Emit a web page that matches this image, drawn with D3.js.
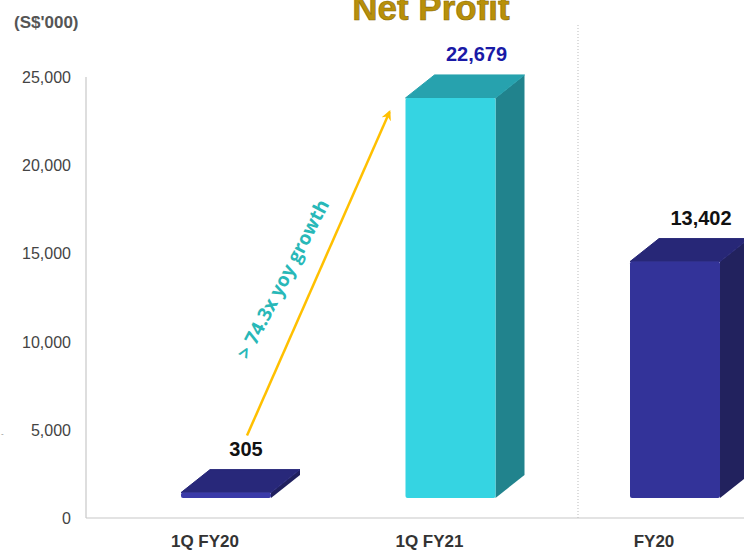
<!DOCTYPE html>
<html>
<head>
<meta charset="utf-8">
<script src="https://cdn.jsdelivr.net/npm/d3@7"></script>
<style>
  body { margin: 0; background: #fff; }
  svg { display: block; font-family: "Liberation Sans", Arial, sans-serif; }
</style>
</head>
<body>
<svg id="chart" width="744" height="552"></svg>
<script>
var categories = ["1Q FY20", "1Q FY21", "FY20"];
var values = [305, 22679, 13402];
var valueLabels = ["305", "22,679", "13,402"];
var yTicks = [0, 5000, 10000, 15000, 20000, 25000];

var svg = d3.select("#chart");

var x = d3.scalePoint().domain(categories).range([205, 654]);
var y = d3.scaleLinear().domain([0, 25000]).range([518, 77]);

var palette = [
    {front: "#3a3aa8", top: "#28287a", side: "#20205e", label: "#111"},
    {front: "#35d4e2", top: "#27a2ae", side: "#21838d", label: "#1a1aa6"},
    {front: "#333399", top: "#272777", side: "#22225e", label: "#111"}
];

var lift = 20, depthX = 29, depthY = 23, barW = 90;

// axis lines
svg.append("line")
    .attr("x1", 86).attr("x2", 86)
    .attr("y1", y(25000)).attr("y2", y(0))
    .style("stroke", "#c8c8c8").style("stroke-width", 1.2);
svg.append("line")
    .attr("x1", 86).attr("x2", 744)
    .attr("y1", y(0)).attr("y2", y(0))
    .style("stroke", "#c8c8c8").style("stroke-width", 1.2);

// divider between quarterly and full year
svg.append("line")
    .attr("x1", x("FY20") - 76).attr("x2", x("FY20") - 76)
    .attr("y1", 25).attr("y2", y(0))
    .style("stroke", "#bbb").style("stroke-width", 1)
    .style("stroke-dasharray", "1,2");

// y tick labels
svg.selectAll(".ytick")
    .data(yTicks)
    .enter().append("text")
    .attr("x", 71)
    .attr("y", function(d) { return y(d) + 6; })
    .attr("text-anchor", "end")
    .style("font-size", "16px")
    .style("fill", "#444")
    .text(function(d) { return d3.format(",")(d); });

svg.append("text")
    .attr("x", 1).attr("y", 436)
    .style("font-size", "8px").style("fill", "#888")
    .text("-");

// unit label
svg.append("text")
    .attr("x", 14).attr("y", 28)
    .style("font-size", "17px").style("font-weight", "bold")
    .style("fill", "#555")
    .text("(S$'000)");

// title
svg.append("text")
    .attr("x", 431).attr("y", 20)
    .attr("text-anchor", "middle")
    .style("font-size", "35px").style("font-weight", "bold")
    .style("fill", "#b8900a")
    .style("stroke", "#8a6a00").style("stroke-width", 0.6)
    .text("Net Profit");

// 3D bars
var bars = svg.selectAll(".bar")
    .data(categories)
    .enter().append("g");

bars.each(function(c, i) {
    var g = d3.select(this);
    var col = palette[i];
    var left = x(c) - 24;
    var bottom = y(0) - lift;
    var top = y(values[i]) - lift;
    // side
    g.append("path")
        .attr("d", "M" + (left + barW) + "," + bottom +
            "L" + (left + barW + depthX) + "," + (bottom - depthY) +
            "L" + (left + barW + depthX) + "," + (top - depthY) +
            "L" + (left + barW) + "," + top + "Z")
        .style("fill", col.side);
    // top
    g.append("path")
        .attr("d", "M" + left + "," + top +
            "L" + (left + depthX) + "," + (top - depthY) +
            "L" + (left + barW + depthX) + "," + (top - depthY) +
            "L" + (left + barW) + "," + top + "Z")
        .style("fill", col.top)
        .style("stroke", col.top).style("stroke-linejoin", "round");
    // front
    g.append("rect")
        .attr("x", left).attr("y", top)
        .attr("width", barW).attr("height", Math.max(bottom - top, 2))
        .attr("rx", 2)
        .style("fill", col.front);
    // value label
    g.append("text")
        .attr("x", left + (i == 0 ? 65 : 71))
        .attr("y", top - depthY - 14)
        .attr("text-anchor", "middle")
        .style("font-size", "20px").style("font-weight", "bold")
        .style("fill", col.label)
        .text(valueLabels[i]);
});

// x labels
svg.selectAll(".xlab")
    .data(categories)
    .enter().append("text")
    .attr("x", function(d) { return x(d); })
    .attr("y", 547)
    .attr("text-anchor", "middle")
    .style("font-size", "17px").style("font-weight", "bold")
    .style("fill", "#333")
    .text(function(d) { return d; });

// growth arrow
svg.append("defs").append("marker")
    .attr("id", "arrowhead")
    .attr("viewBox", "0 0 10 10")
    .attr("refX", 8).attr("refY", 5)
    .attr("markerWidth", 4).attr("markerHeight", 4)
    .attr("orient", "auto")
    .append("path")
    .attr("d", "M0,0 L10,5 L0,10 L3,5 Z")
    .style("fill", "#ffc000");

svg.append("line")
    .attr("x1", x("1Q FY20") + 42).attr("y1", y(values[0]) - 77)
    .attr("x2", x("1Q FY21") - 40).attr("y2", y(values[1]) - 6)
    .style("stroke", "#ffc000").style("stroke-width", 2.5)
    .attr("marker-end", "url(#arrowhead)");

svg.append("text")
    .attr("transform", "translate(289,282) rotate(-62.5)")
    .attr("text-anchor", "middle")
    .style("font-family", "'Open Sans', sans-serif")
    .style("font-size", "19px").style("font-weight", "bold")
    .style("fill", "#28b8b8")
    .text("> 74.3x yoy growth");
</script>
</body>
</html>
